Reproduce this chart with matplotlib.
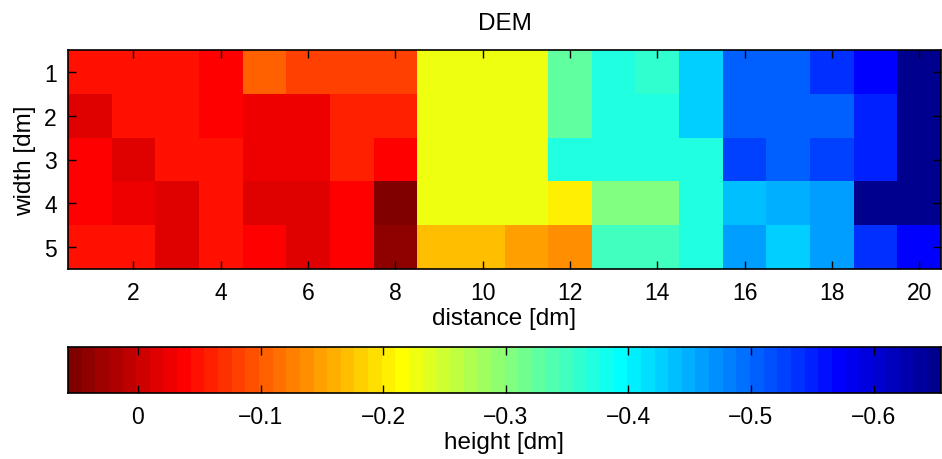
import numpy as np
import matplotlib
matplotlib.use("Agg")
import matplotlib.pyplot as plt
from matplotlib.colors import ListedColormap, Normalize

# DEM heights [dm], rows = width 1..5, columns = distance 1..20
row1 = [-0.048, -0.048, -0.048, -0.037, -0.104, -0.081, -0.081, -0.081,
        -0.226, -0.226, -0.226, -0.327, -0.371, -0.360, -0.427, -0.505,
        -0.505, -0.538, -0.572, -0.655]
row2 = [-0.014, -0.048, -0.048, -0.037, -0.026, -0.026, -0.059, -0.059,
        -0.226, -0.226, -0.226, -0.327, -0.371, -0.371, -0.427, -0.505,
        -0.505, -0.505, -0.549, -0.655]
row3 = [-0.037, -0.014, -0.048, -0.048, -0.026, -0.026, -0.059, -0.037,
        -0.226, -0.226, -0.226, -0.371, -0.371, -0.371, -0.371, -0.527,
        -0.505, -0.527, -0.549, -0.655]
row4 = [-0.037, -0.026, -0.014, -0.048, -0.014, -0.014, -0.037, 0.057,
        -0.226, -0.226, -0.226, -0.204, -0.304, -0.304, -0.371, -0.438,
        -0.449, -0.460, -0.655, -0.655]
row5 = [-0.048, -0.048, -0.014, -0.048, -0.037, -0.014, -0.037, 0.041,
        -0.170, -0.170, -0.148, -0.137, -0.349, -0.349, -0.371, -0.460,
        -0.427, -0.460, -0.538, -0.572]

distance = np.arange(1, 21)
width = np.arange(1, 6)
x_ticks = [2, 4, 6, 8, 10, 12, 14, 16, 18, 20]
cbar_ticks = [0, -0.1, -0.2, -0.3, -0.4, -0.5, -0.6]


def matlab_jet(m=64):
    # classic MATLAB jet(64)
    n = int(np.ceil(m / 4))
    u = np.concatenate([np.arange(1, n + 1) / n, np.ones(n - 1),
                        np.arange(n, 0, -1) / n])
    g = int(np.ceil(n / 2)) - (1 if m % 4 == 1 else 0) + np.arange(1, len(u) + 1)
    r = g + n
    b = g - n
    J = np.zeros((m, 3))
    for col, idx in ((0, r), (1, g), (2, b)):
        ok = (idx >= 1) & (idx <= m)
        J[idx[ok] - 1, col] = u[ok]
    return ListedColormap(J)


plt.rcParams["font.family"] = ["Liberation Sans", "DejaVu Sans"]
plt.rcParams["font.size"] = 16.5
label_size = 17.5

data = np.array([row1, row2, row3, row4, row5])
vmin, vmax = data.min(), data.max()
cmap = matlab_jet(64)
norm = Normalize(vmin=vmin, vmax=vmax)

fig = plt.figure(figsize=(9.42, 4.6), dpi=100)
W, H = 942, 460
ax = fig.add_axes([68 / W, 1 - 270 / H, 873 / W, 219 / H])
ax.pcolormesh(np.arange(0.5, 21), np.arange(0.5, 6), data, cmap=cmap, norm=norm)
ax.set_xlim(0.5, 20.5)
ax.set_ylim(5.5, 0.5)
ax.set_xticks(x_ticks)
ax.set_yticks(width)
ax.tick_params(axis="x", direction="in", top=True, length=6, width=1, pad=9)
ax.tick_params(axis="y", direction="in", right=True, length=6, width=1, pad=8)
ax.set_xlabel("distance [dm]", fontsize=label_size, labelpad=2)
ax.set_ylabel("width [dm]", fontsize=label_size, labelpad=6)
ax.set_title("DEM", fontsize=label_size, pad=15)
for s in ax.spines.values():
    s.set_linewidth(1.2)

# horizontal colorbar, reversed direction
cax = fig.add_axes([68 / W, 1 - 394 / H, 873 / W, 46 / H])
levels = np.linspace(vmin, vmax, 65)
cax.pcolormesh(levels, [0, 1], np.array([(levels[:-1] + levels[1:]) / 2]),
               cmap=cmap, norm=norm)
cax.set_xlim(vmax, vmin)
cax.set_ylim(0, 1)
cax.set_yticks([])
cax.set_xticks(cbar_ticks)
cax.set_xticklabels(["0", "\u22120.1", "\u22120.2", "\u22120.3", "\u22120.4",
                     "\u22120.5", "\u22120.6"])
cax.tick_params(direction="in", top=True, length=6, width=1, pad=9)
cax.set_xlabel("height [dm]", fontsize=label_size, labelpad=2)
for s in cax.spines.values():
    s.set_linewidth(1.2)

fig.savefig("out.png", dpi=100)
